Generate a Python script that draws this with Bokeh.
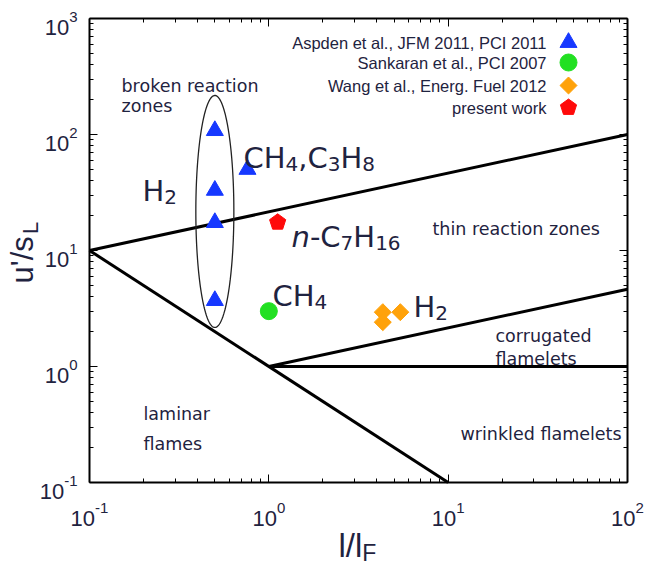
import numpy as np
from bokeh.plotting import figure
from bokeh.models import LogAxis, FixedTicker, Label, Range1d, CustomJSTickFormatter
from bokeh.embed import file_html
from bokeh.resources import INLINE

# ---------------- data ----------------
X_RANGE = (0.1, 100.0)
Y_RANGE = (0.1, 1000.0)
major_ticks_x = [0.1, 1.0, 10.0, 100.0]
major_ticks_y = [0.1, 1.0, 10.0, 100.0, 1000.0]
tick_exponents_x = ["-1", "0", "1", "2"]
tick_exponents_y = ["-1", "0", "1", "2", "3"]

# regime boundaries
ka100_x = [0.1, 100.0]
ka100_y = [10.0, 100.0]
re1_x = [0.1, 10.0]
re1_y = [10.0, 0.1]
ka1_x = [1.0, 100.0]
ka1_y = [1.0, 4.64]
u1_x = [1.0, 100.0]
u1_y = [1.0, 1.0]

# data points
aspden_x = [0.5, 0.5, 0.5, 0.5, 0.76]
aspden_y = [108.0, 33.0, 17.4, 3.7, 50.0]
sankaran_x = [1.0]
sankaran_y = [3.0]
wang_x = [4.32, 5.41, 4.32]
wang_y = [2.94, 2.94, 2.41]
present_x = [1.12]
present_y = [17.5]

ellipse_center = (0.5, 21.7)
ellipse_half_decades = (0.106, 1.0)

legend_labels = ["Aspden et al., JFM 2011, PCI 2011", "Sankaran et al., PCI 2007",
                 "Wang et al., Energ. Fuel 2012", "present work"]

region_labels = ["broken reaction", "zones", "laminar", "flames", "thin reaction zones",
                 "corrugated", "flamelets", "wrinkled flamelets"]

# ---------------- style / layout ----------------
BLUE = "#1638ff"
GREEN = "#22e022"
ORANGE = "#ffa20a"
RED = "#ff0a0a"
TXT = "#1f2340"

W, H = 648, 565
MB = 2                                  # border on every side
FL, FT, FR, FB = MB, MB, W - MB, H - MB  # frame in canvas pixels
BOX_L, BOX_R, BOX_T, BOX_B = 89, 627, 18, 482   # data box in canvas pixels

lx0, lx1 = np.log10(X_RANGE[0]), np.log10(X_RANGE[1])
ly0, ly1 = np.log10(Y_RANGE[0]), np.log10(Y_RANGE[1])
PPX = (BOX_R - BOX_L) / (lx1 - lx0)     # pixels per decade
PPY = (BOX_B - BOX_T) / (ly1 - ly0)
view_x = (10 ** (lx0 - (BOX_L - FL) / PPX), 10 ** (lx1 + (FR - BOX_R) / PPX))
view_y = (10 ** (ly0 - (FB - BOX_B) / PPY), 10 ** (ly1 + (BOX_T - FT) / PPY))

def sx(px):
    return px - FL

def sy(py):
    return FB - py

def x_of(px):
    return 10 ** (lx0 + (px - BOX_L) / PPX)

def y_of(py):
    return 10 ** (ly0 + (BOX_B - py) / PPY)

p = figure(width=W, height=H, x_axis_type="log", y_axis_type="log",
           x_range=Range1d(*view_x), y_range=Range1d(*view_y),
           output_backend="svg", toolbar_location=None,
           min_border_left=MB, min_border_right=MB, min_border_top=MB, min_border_bottom=MB)
p.xgrid.visible = False
p.ygrid.visible = False
p.outline_line_color = None
p.background_fill_color = "white"
p.border_fill_color = "white"

p.add_layout(LogAxis(), "above")
p.add_layout(LogAxis(), "right")

def decade_minors(lo_exp, hi_exp):
    return [m * 10.0 ** e for e in range(lo_exp, hi_exp) for m in range(2, 10)]

blank = CustomJSTickFormatter(code="return ''")
xb, xt = p.below[0], p.above[0]
yl, yr = p.left[0], p.right[0]
xb.fixed_location, xt.fixed_location = Y_RANGE[0], Y_RANGE[1]
yl.fixed_location, yr.fixed_location = X_RANGE[0], X_RANGE[1]
for ax in (xb, xt):
    ax.ticker = FixedTicker(ticks=major_ticks_x, minor_ticks=decade_minors(-1, 2))
    ax.bounds = X_RANGE
for ax in (yl, yr):
    ax.ticker = FixedTicker(ticks=major_ticks_y, minor_ticks=decade_minors(-1, 3))
    ax.bounds = Y_RANGE
for ax in (xb, xt, yl, yr):
    ax.formatter = blank
    ax.major_label_text_font_size = "1px"
    ax.major_label_text_alpha = 0.0
    ax.major_label_standoff = 0
    ax.axis_line_color = "black"
    ax.axis_line_width = 2
    ax.major_tick_in = 8
    ax.major_tick_out = 0
    ax.minor_tick_in = 4
    ax.minor_tick_out = 0
    ax.major_tick_line_color = "black"
    ax.minor_tick_line_color = "black"
    ax.major_tick_line_width = 1
    ax.minor_tick_line_width = 1

# ---------------- boundaries ----------------
for xs, ys in [(ka100_x, ka100_y), (re1_x, re1_y), (ka1_x, ka1_y), (u1_x, u1_y)]:
    p.line(xs, ys, line_color="black", line_width=3)

t = np.linspace(0, 2 * np.pi, 200)
ex = 10 ** (np.log10(ellipse_center[0]) + ellipse_half_decades[0] * np.cos(t))
ey = 10 ** (np.log10(ellipse_center[1]) + ellipse_half_decades[1] * np.sin(t))
p.line(ex, ey, line_color="#222222", line_width=1.3)

# ---------------- markers ----------------
def pentagon(xc, yc, r):
    a = np.pi / 2 + 2 * np.pi * np.arange(5) / 5
    return (xc * 10 ** (r * np.cos(a) / PPX), yc * 10 ** (r * np.sin(a) / PPY))

p.scatter(aspden_x, aspden_y, marker="triangle", size=17, fill_color=BLUE, line_color=BLUE)
p.scatter(sankaran_x, sankaran_y, marker="circle", size=17, fill_color=GREEN, line_color=GREEN)
p.scatter(wang_x, wang_y, marker="square", angle=np.pi / 4, size=12, fill_color=ORANGE, line_color=ORANGE)
for xc, yc in zip(present_x, present_y):
    px_, py_ = pentagon(xc, yc, 8.5)
    p.patch(px_, py_, fill_color=RED, line_color=RED)

# ---------------- legend ----------------
leg_rows_py = [42, 62, 85, 107]
leg_text_px = 546
leg_mark_px = 568
leg_x = x_of(leg_mark_px)
p.scatter([leg_x], [y_of(leg_rows_py[0])], marker="triangle", size=17, fill_color=BLUE, line_color=BLUE)
p.scatter([leg_x], [y_of(leg_rows_py[1])], marker="circle", size=17, fill_color=GREEN, line_color=GREEN)
p.scatter([leg_x], [y_of(leg_rows_py[2])], marker="square", angle=np.pi / 4, size=12,
          fill_color=ORANGE, line_color=ORANGE)
lpx, lpy = pentagon(leg_x, y_of(leg_rows_py[3]), 8.5)
p.patch(lpx, lpy, fill_color=RED, line_color=RED)

def label(text, px, py, size, font="Liberation Sans", align="left", baseline="alphabetic",
          angle=0.0, style="normal", color=TXT):
    p.add_layout(Label(x=sx(px), y=sy(py), x_units="screen", y_units="screen", text=text,
                       text_font=font, text_font_size=f"{size}px", text_color=color,
                       text_align=align, text_baseline=baseline, angle=angle,
                       text_font_style=style))

for txt, py in zip(legend_labels, leg_rows_py):
    label(txt, leg_text_px, py, 16.5, align="right", baseline="middle")

# ---------------- region labels ----------------
region_pos = [(121, 85), (121, 105), (143, 413), (143, 443), (432, 228),
              (495, 335), (495, 358), (460, 433)]
for txt, (px, py) in zip(region_labels, region_pos):
    label(txt, px, py, 17.5, font="DejaVu Sans")

# ---------------- species labels ----------------
EM = {"C": 0.698, "H": 0.752, "n": 0.634, "-": 0.361, ",": 0.318}
for d in "0123456789":
    EM[d] = 0.636
MAIN, SUB, DROP = 29, 20, 6

def species(segments, px, py):
    x = px
    for txt, kind in segments:
        size = SUB if kind == "sub" else MAIN
        label(txt, x, py + (DROP if kind == "sub" else 0), size, font="DejaVu Sans",
              style="italic" if kind == "it" else "normal")
        x += sum(EM[c] for c in txt) * size

species([("H", "n"), ("2", "sub")], 142, 190)
species([("CH", "n"), ("4", "sub"), (",C", "n"), ("3", "sub"), ("H", "n"), ("8", "sub")], 243, 157)
species([("n", "it"), ("-C", "n"), ("7", "sub"), ("H", "n"), ("16", "sub")], 291, 236)
species([("CH", "n"), ("4", "sub")], 272, 295)
species([("H", "n"), ("2", "sub")], 413, 306)

# ---------------- tick labels ----------------
T10, TEXP = 22, 15
W10 = 1.112 * T10

def exp_w(e):
    return sum(0.333 if c == "-" else 0.556 for c in e) * TEXP

for tv, e in zip(major_ticks_x, tick_exponents_x):
    wtot = W10 + exp_w(e)
    p.add_layout(Label(x=tv, y=sy(518), x_units="data", y_units="screen", text="10",
                       x_offset=-wtot / 2, text_font="Liberation Sans", text_font_size=f"{T10}px",
                       text_color=TXT, text_align="left", text_baseline="alphabetic"))
    p.add_layout(Label(x=tv, y=sy(507.5), x_units="data", y_units="screen", text=e,
                       x_offset=-wtot / 2 + W10, text_font="Liberation Sans",
                       text_font_size=f"{TEXP}px", text_color=TXT, text_align="left",
                       text_baseline="alphabetic"))

for tv, e in zip(major_ticks_y, tick_exponents_y):
    right = sx(77)
    p.add_layout(Label(x=right - exp_w(e), y=tv, x_units="screen", y_units="data", text="10",
                       y_offset=-9, text_font="Liberation Sans", text_font_size=f"{T10}px",
                       text_color=TXT, text_align="right", text_baseline="alphabetic"))
    p.add_layout(Label(x=right, y=tv, x_units="screen", y_units="data", text=e,
                       y_offset=2, text_font="Liberation Sans", text_font_size=f"{TEXP}px",
                       text_color=TXT, text_align="right", text_baseline="alphabetic"))

# ---------------- axis titles ----------------
AX, AXS = 33, 23
label("l/l", 338, 545, AX)
label("F", 338 + 0.722 * AX, 552, AXS)
YA, YAS = 31, 22
label("u'/s", 22, 283, YA, angle=np.pi / 2)
label("L", 30, 283 - 1.6 * YA, YAS, angle=np.pi / 2)

open("out.html", "w").write(file_html(p, INLINE))
